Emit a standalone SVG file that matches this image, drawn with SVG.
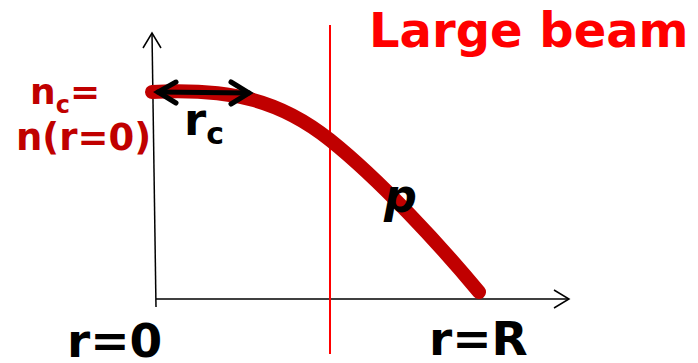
<svg xmlns="http://www.w3.org/2000/svg" width="698" height="363" viewBox="0 0 698 363">
<style>
.t{font-family:"DejaVu Sans",sans-serif;font-weight:bold}
.ax{stroke:#000;stroke-width:1.5;fill:none}
</style>
<rect width="698" height="363" fill="#fff"/>
<g id="axes">
<line class="ax" x1="156" y1="307" x2="152" y2="33"/>
<polyline class="ax" points="143,48 152,33 161,48"/>
<line class="ax" x1="156" y1="299" x2="569" y2="299"/>
<polyline class="ax" points="554,290 569,299 554,308"/>
</g>
<g id="divider"><line x1="330" y1="25" x2="330" y2="354" stroke="#ff0000" stroke-width="2"/></g>
<g id="curve"><path d="M152,92 C 230,88 280,100 330,140 S 440,245 479,292" fill="none" stroke="#c00000" stroke-width="14" stroke-linecap="round"/></g>
<g id="rc-arrow" stroke="#000" stroke-width="5" fill="none" stroke-linecap="round">
<line x1="158" y1="92" x2="249" y2="93"/>
<polyline points="176,82 158,92 176,103"/>
<polyline points="231,82 249,93 231,104"/>
</g>
<g id="labels">
<text class="t" x="369" y="47" font-size="48" fill="#ff0000">Large beam</text>
<text class="t" x="30" y="104" font-size="36" fill="#c00000">n<tspan font-size="24" dy="9">c</tspan><tspan dy="-9">=</tspan></text>
<text class="t" x="16" y="150" font-size="37" fill="#c00000">n(r=0)</text>
<text class="t" x="184" y="135" font-size="45" fill="#000">r<tspan font-size="30" dy="9">c</tspan></text>
<text class="t" x="384" y="212" font-size="46" font-style="italic" fill="#000">p</text>
<text class="t" x="67" y="357" font-size="47" fill="#000">r=0</text>
<text class="t" x="429" y="355" font-size="47" fill="#000">r=R</text>
</g>
</svg>
